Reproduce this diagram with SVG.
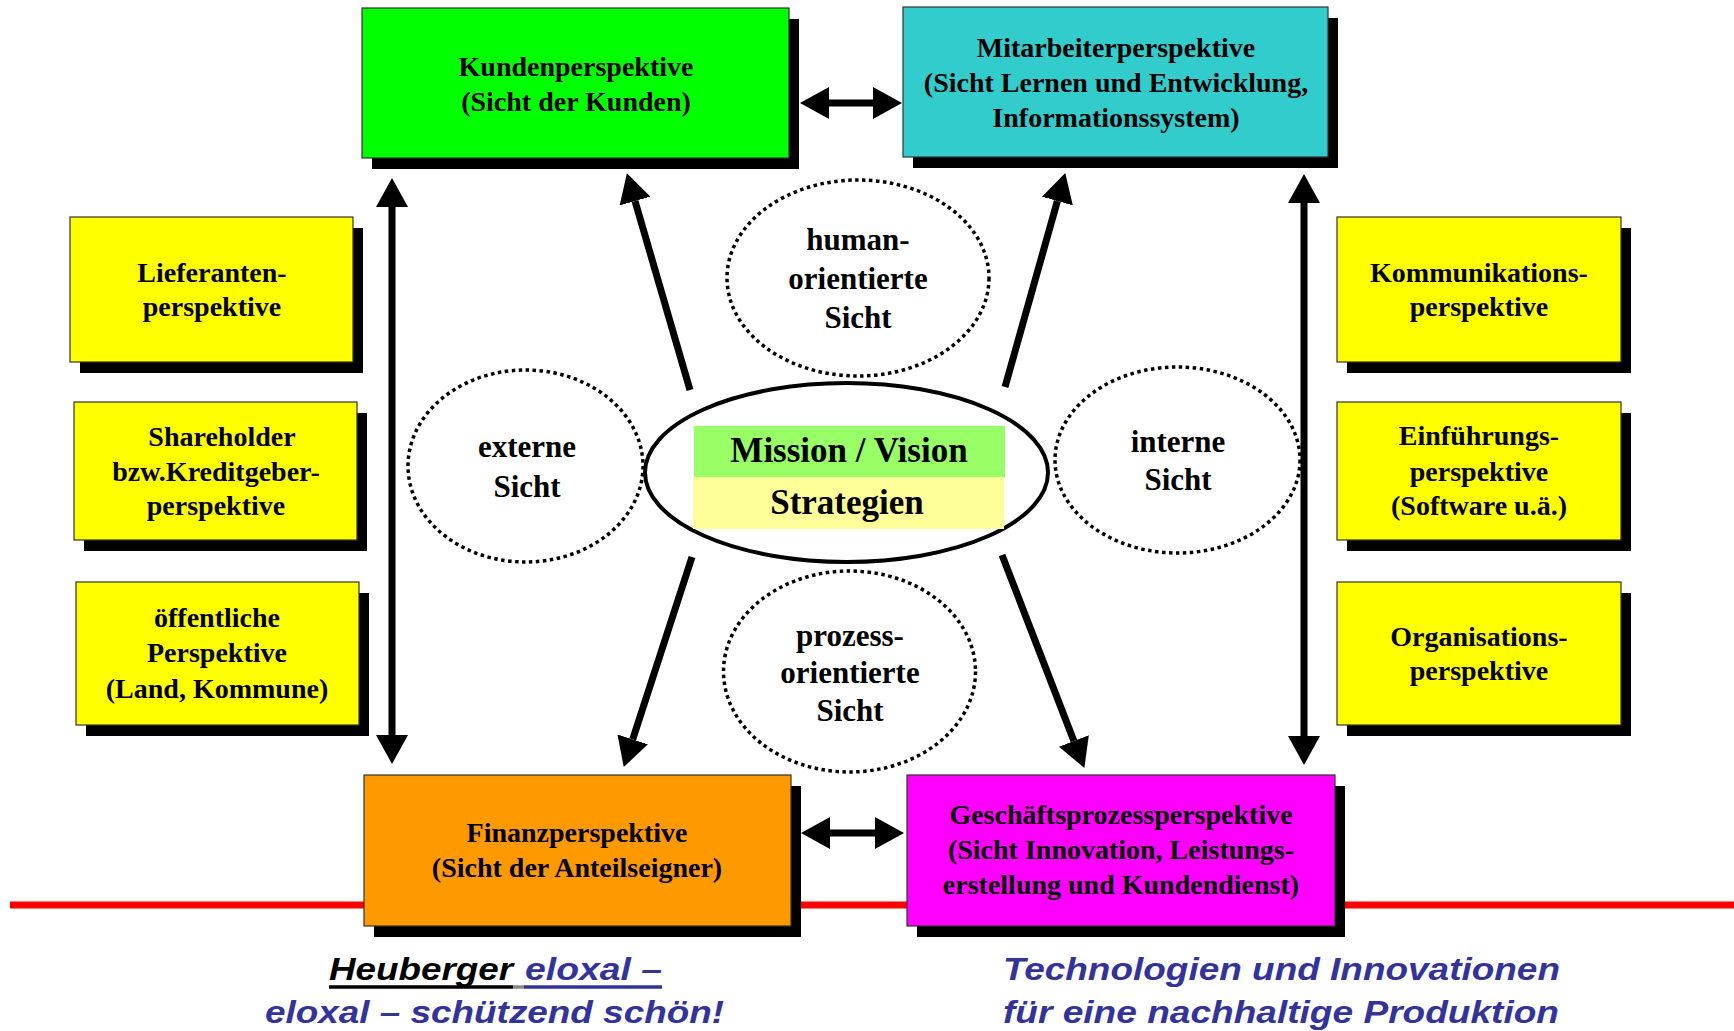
<svg xmlns="http://www.w3.org/2000/svg" width="1734" height="1031" viewBox="0 0 1734 1031">
<style>
.box{stroke:#333;stroke-width:1.2}
.sh{fill:#000}
.t{font-family:"Liberation Serif","Times New Roman",serif;font-weight:bold;font-size:28px;fill:#000;text-anchor:middle}
.tv{font-family:"Liberation Serif","Times New Roman",serif;font-weight:bold;font-size:31px;fill:#000;text-anchor:middle}
.tc{font-family:"Liberation Serif","Times New Roman",serif;font-weight:bold;font-size:35px;fill:#000;text-anchor:middle}
.dot{fill:none;stroke:#000;stroke-width:3.5;stroke-dasharray:3.5 3.5}
.ar{stroke:#000;stroke-width:7;fill:none}
.ft{font-family:"Liberation Sans",Arial,sans-serif;font-weight:bold;font-style:italic;font-size:31px}
</style>
<defs>
<marker id="ah" markerUnits="userSpaceOnUse" markerWidth="30" markerHeight="32" refX="0" refY="16" orient="auto-start-reverse" viewBox="0 0 30 32">
<path d="M0,0 L29,16 L0,32 z" fill="#000"/>
</marker>
</defs>
<rect width="1734" height="1031" fill="#fff"/>
<line x1="10" y1="905" x2="1734" y2="905" stroke="#f00" stroke-width="7"/>

<g id="kunden">
<rect class="sh" x="372" y="19" width="427" height="150"/>
<rect class="box" x="362" y="8" width="427" height="150" fill="#00FF00"/>
<text class="t" x="576" y="76">Kundenperspektive</text>
<text class="t" x="576" y="111">(Sicht der Kunden)</text>
</g>
<g id="mitarbeiter">
<rect class="sh" x="913" y="18" width="425" height="150"/>
<rect class="box" x="903" y="7" width="425" height="150" fill="#33CCCC"/>
<text class="t" x="1116" y="57">Mitarbeiterperspektive</text>
<text class="t" x="1116" y="92">(Sicht Lernen und Entwicklung,</text>
<text class="t" x="1116" y="127">Informationssystem)</text>
</g>
<g id="lieferanten">
<rect class="sh" x="80" y="228" width="283" height="145"/>
<rect class="box" x="70" y="217" width="283" height="145" fill="#FFFF00"/>
<text class="t" x="212" y="282">Lieferanten-</text>
<text class="t" x="212" y="316">perspektive</text>
</g>
<g id="shareholder">
<rect class="sh" x="84" y="413" width="283" height="138"/>
<rect class="box" x="74" y="402" width="283" height="138" fill="#FFFF00"/>
<text class="t" x="222" y="446">Shareholder</text>
<text class="t" x="216" y="481">bzw.Kreditgeber-</text>
<text class="t" x="216" y="515">perspektive</text>
</g>
<g id="oeffentlich">
<rect class="sh" x="86" y="593" width="283" height="143"/>
<rect class="box" x="76" y="582" width="283" height="143" fill="#FFFF00"/>
<text class="t" x="217" y="627">öffentliche</text>
<text class="t" x="217" y="662">Perspektive</text>
<text class="t" x="217" y="698">(Land, Kommune)</text>
</g>
<g id="kommunikation">
<rect class="sh" x="1347" y="228" width="284" height="145"/>
<rect class="box" x="1337" y="217" width="284" height="145" fill="#FFFF00"/>
<text class="t" x="1479" y="282">Kommunikations-</text>
<text class="t" x="1479" y="316">perspektive</text>
</g>
<g id="einfuehrung">
<rect class="sh" x="1347" y="413" width="284" height="138"/>
<rect class="box" x="1337" y="402" width="284" height="138" fill="#FFFF00"/>
<text class="t" x="1479" y="445">Einführungs-</text>
<text class="t" x="1479" y="481">perspektive</text>
<text class="t" x="1479" y="515">(Software u.ä.)</text>
</g>
<g id="organisation">
<rect class="sh" x="1347" y="593" width="284" height="143"/>
<rect class="box" x="1337" y="582" width="284" height="143" fill="#FFFF00"/>
<text class="t" x="1479" y="646">Organisations-</text>
<text class="t" x="1479" y="680">perspektive</text>
</g>
<g id="finanz">
<rect class="sh" x="374" y="786" width="427" height="151"/>
<rect class="box" x="364" y="775" width="427" height="151" fill="#FF9900"/>
<text class="t" x="577" y="842">Finanzperspektive</text>
<text class="t" x="577" y="877">(Sicht der Anteilseigner)</text>
</g>
<g id="geschaeftsprozess">
<rect class="sh" x="917" y="786" width="428" height="151"/>
<rect class="box" x="907" y="775" width="428" height="151" fill="#FF00FF"/>
<text class="t" x="1121" y="824">Geschäftsprozessperspektive</text>
<text class="t" x="1121" y="859">(Sicht Innovation, Leistungs-</text>
<text class="t" x="1121" y="894">erstellung und Kundendienst)</text>
</g>

<g id="mission">
<ellipse cx="846.5" cy="472.5" rx="201.5" ry="89.5" fill="#fff" stroke="#000" stroke-width="4"/>
<rect x="694" y="426" width="311" height="52" fill="#99FF66"/>
<rect x="693" y="477" width="311" height="52" fill="#FFFF99"/>
<text class="tc" x="849" y="462">Mission / Vision</text>
<text class="tc" x="847" y="514">Strategien</text>
</g>
<g id="externe">
<ellipse class="dot" cx="525.5" cy="466" rx="117.5" ry="96"/>
<text class="tv" x="527" y="457">externe</text>
<text class="tv" x="527" y="497">Sicht</text>
</g>
<g id="interne">
<ellipse class="dot" cx="1177.5" cy="460" rx="122.5" ry="93"/>
<text class="tv" x="1178" y="452">interne</text>
<text class="tv" x="1178" y="490">Sicht</text>
</g>
<g id="human">
<ellipse class="dot" cx="858" cy="278" rx="131" ry="98"/>
<text class="tv" x="858" y="250">human-</text>
<text class="tv" x="858" y="289">orientierte</text>
<text class="tv" x="858" y="328">Sicht</text>
</g>
<g id="prozess">
<ellipse class="dot" cx="849.5" cy="671.5" rx="126" ry="100.5"/>
<text class="tv" x="850" y="646">prozess-</text>
<text class="tv" x="850" y="683">orientierte</text>
<text class="tv" x="850" y="721">Sicht</text>
</g>

<g id="connectors">
<line class="ar" x1="392" y1="207" x2="392" y2="735" marker-start="url(#ah)" marker-end="url(#ah)"/>
<line class="ar" x1="1304" y1="203" x2="1304" y2="736" marker-start="url(#ah)" marker-end="url(#ah)"/>
<line class="ar" x1="829" y1="103" x2="873" y2="103" marker-start="url(#ah)" marker-end="url(#ah)"/>
<line class="ar" x1="830" y1="833" x2="875" y2="833" marker-start="url(#ah)" marker-end="url(#ah)"/>
<line class="ar" x1="690" y1="390" x2="635" y2="201" marker-end="url(#ah)"/>
<line class="ar" x1="1005" y1="387" x2="1057.4" y2="201" marker-end="url(#ah)"/>
<line class="ar" x1="692" y1="557" x2="632.7" y2="739.4" marker-end="url(#ah)"/>
<line class="ar" x1="1002" y1="555" x2="1073.9" y2="740.9" marker-end="url(#ah)"/>
</g>

<g id="footer">
<text class="ft" x="329" y="980" fill="#000" textLength="184" lengthAdjust="spacingAndGlyphs">Heuberger</text>
<text class="ft" x="525" y="980" fill="#333399" textLength="137" lengthAdjust="spacingAndGlyphs">eloxal –</text>
<line x1="329" y1="987" x2="513" y2="987" stroke="#000" stroke-width="3.5"/>
<line x1="513" y1="987" x2="524" y2="987" stroke="#888" stroke-width="3.5"/>
<line x1="524" y1="987" x2="662" y2="987" stroke="#333399" stroke-width="3.5"/>
<text class="ft" x="265" y="1023" fill="#333399" textLength="459" lengthAdjust="spacingAndGlyphs">eloxal – schützend schön!</text>
<text class="ft" x="1003" y="980" fill="#333399" textLength="557" lengthAdjust="spacingAndGlyphs">Technologien und Innovationen</text>
<text class="ft" x="1003" y="1023" fill="#333399" textLength="556" lengthAdjust="spacingAndGlyphs">für eine nachhaltige Produktion</text>
</g>
</svg>
